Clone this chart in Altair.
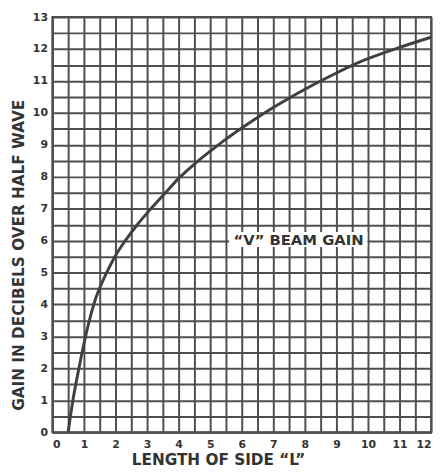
import altair as alt
import pandas as pd

# Curve (length of side in wavelengths, gain in dB)
length_L = [0.5, 0.65, 0.84, 1.05, 1.31, 1.72, 1.98, 2.31, 2.69, 3.12, 3.58, 4.0,
            4.5, 5.0, 5.5, 6.0, 6.5, 7.0, 7.5, 8.0, 8.5, 9.0, 9.8, 11.0, 12.0]
gain_db = [0.0, 1.0, 2.0, 3.0, 4.0, 5.0, 5.5, 6.0, 6.5, 7.0, 7.5, 7.95,
           8.4, 8.8, 9.18, 9.53, 9.86, 10.17, 10.46, 10.74, 11.0, 11.25, 11.62, 12.05, 12.37]

x_ticks = [i * 0.5 for i in range(25)]
y_ticks = [i * 0.5 for i in range(27)]

label_text = ["\u201cV\u201d BEAM GAIN"]

df = pd.DataFrame({"L": length_L, "G": gain_db})

FONT = "DejaVu Sans"
GRID = "#4f4f4f"

xs = alt.Scale(domain=[0, 12], nice=False)
ys = alt.Scale(domain=[0, 13], nice=False)

LBL = "datum.value % 1 == 0 ? '' + datum.value : ''"

x_axis = alt.Axis(
    values=x_ticks, grid=True, ticks=False, labelOverlap=False,
    labelExpr=LBL,
    title="LENGTH OF SIDE \u201cL\u201d", titlePadding=4, labelPadding=6,
    titleX=168,
)
y_axis = alt.Axis(
    values=y_ticks, grid=True, ticks=False, labelOverlap=False,
    labelExpr=LBL,
    title="GAIN IN DECIBELS OVER HALF WAVE", titlePadding=6, labelPadding=5,
    titleY=241,
)

curve = alt.Chart(df).mark_line(color="#404040", strokeWidth=3, interpolate="monotone").encode(
    x=alt.X("L:Q", scale=xs, axis=x_axis),
    y=alt.Y("G:Q", scale=ys, axis=y_axis),
)

box_df = pd.DataFrame({"x1": [5.6], "x2": [9.98], "y1": [5.8], "y2": [6.27]})
box = alt.Chart(box_df).mark_rect(color="white").encode(
    x=alt.X("x1:Q", scale=xs, axis=x_axis), x2="x2:Q",
    y=alt.Y("y1:Q", scale=ys, axis=y_axis), y2="y2:Q",
)

txt_df = pd.DataFrame({"x": [7.8], "y": [6.03], "t": label_text})
txt = alt.Chart(txt_df).mark_text(
    font=FONT, fontSize=15, fontWeight="bold", color="#333333", align="center", baseline="middle"
).encode(x=alt.X("x:Q", scale=xs, axis=x_axis), y=alt.Y("y:Q", scale=ys, axis=y_axis), text="t:N")

chart = (
    alt.layer(curve, box, txt)
    .properties(
        width=384, height=421,
        autosize=alt.AutoSizeParams(type="none"),
        padding={"left": 45, "top": 6, "right": 8, "bottom": 36},
    )
    .configure_view(stroke=GRID, strokeWidth=2)
    .configure_axis(
        gridColor=GRID, gridWidth=2, gridOpacity=1,
        domainColor=GRID, domainWidth=2,
        labelFont=FONT, labelFontSize=11, labelFontWeight="bold", labelColor="#333333",
        titleFont=FONT, titleFontSize=15.5, titleFontWeight="bold", titleColor="#333333",
    )
    .configure_axisY(labelBaseline="middle")
)

chart.save("out.html", embed_options={"renderer": "svg", "actions": False})
